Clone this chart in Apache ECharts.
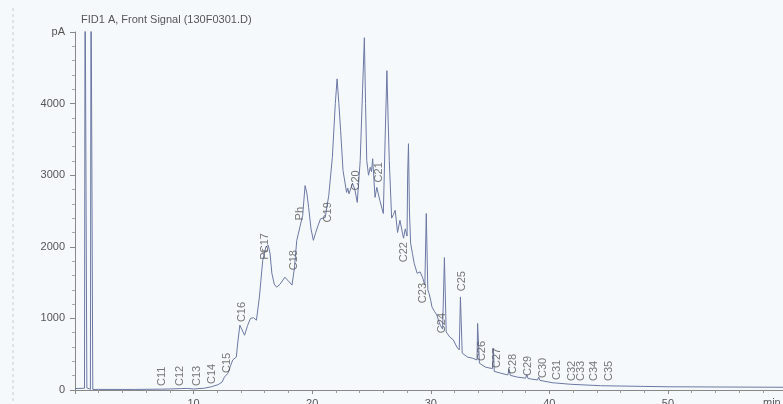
<!DOCTYPE html>
<html>
<head>
<meta charset="utf-8">
<script src="https://cdn.jsdelivr.net/npm/echarts@6/dist/echarts.min.js"></script>
<style>html,body{margin:0;padding:0;background:#f6f9fc;}#c{width:783px;height:404px;}</style>
</head>
<body>
<div id="c"></div>
<script>
// Retention time (min) and detector signal (pA)
var timeMin = [0,0.8,0.85,0.95,1.0,1.3,1.35,1.45,1.5,2,5,7.3,8,9,9.5,10,10.9,11.5,12.07,12.4,12.6,12.9,13.1,13.3,13.6,13.75,13.9,14.05,14.3,14.55,14.8,15.05,15.3,15.55,15.83,16.1,16.3,16.45,16.6,16.8,17.0,17.3,17.7,18.0,18.3,18.5,18.7,19.0,19.2,19.4,19.55,19.7,19.9,20.1,20.3,20.5,20.7,20.8,21.1,21.4,21.7,21.95,22.1,22.25,22.4,22.6,22.9,23.0,23.1,23.4,23.6,23.8,24.05,24.25,24.4,24.5,24.6,24.75,24.9,25.0,25.1,25.3,25.45,25.7,26.0,26.15,26.3,26.4,26.5,26.7,26.85,27.0,27.2,27.4,27.7,27.85,28.0,28.05,28.12,28.2,28.3,28.45,28.6,28.85,29.1,29.3,29.5,29.62,29.68,29.75,29.85,30.0,30.1,30.3,30.5,30.8,31.0,31.1,31.15,31.22,31.3,31.6,31.9,32.2,32.4,32.5,32.58,32.65,33.1,33.5,33.9,33.95,34.02,34.1,34.6,35.0,35.2,35.28,35.35,35.9,36.5,36.6,36.7,37.3,38.0,38.1,38.2,39.0,39.1,39.2,40.3,40.4,40.5,41.8,44.3,50,59.7];
var signalPA = [20,25,6000,6000,30,10,6000,6000,8,8,8,12,14,20,22,14,25,45,75,110,180,235,330,420,460,700,905,880,765,900,1000,1010,975,1300,1810,2000,2020,1900,1630,1480,1435,1480,1575,1520,1465,1700,2090,2300,2440,2855,2750,2550,2250,2090,2200,2300,2390,2370,2410,2720,3250,4000,4345,4000,3620,3065,2760,2820,2740,2885,2800,2620,3205,4200,4920,4000,3205,3000,3110,3050,3230,2690,2830,2650,2465,3500,4460,3800,3205,2400,2450,2510,2200,2370,2120,2250,2150,3000,3440,2500,2050,1910,1770,1630,1650,1575,1465,2465,2465,1400,1350,1250,1160,1100,1050,905,850,835,1850,1850,810,740,700,600,560,1300,1300,515,460,445,420,930,930,375,320,305,300,585,260,235,210,290,205,180,165,215,160,140,180,135,100,125,98,80,60,45,38];

// Peak annotations: name, retention time, signal level where the label starts
var peakNames = ['C11','C12','C13','C14','C15','C16','Pr','C17','C18','Ph','C19','C20','C21','C22','C23','C24','C25','C26','C27','C28','C29','C30','C31','C32','C33','C34','C35'];
var peakTimes = [7.30,8.82,10.25,11.52,12.78,14.05,16.0,16.0,18.44,18.95,21.31,23.67,25.61,27.72,29.32,30.93,32.62,34.30,35.57,36.92,38.19,39.45,40.63,41.90,42.66,43.76,45.02];
var peakLabelPA = [56,56,56,84,237,948,1820,1909,1672,2369,2341,2787,2899,1784,1213,794,1380,404,307,223,195,167,139,125,125,125,125];

// Axis tick labels
var yTickTop = 5000;
var yTopLabel = 'pA';

var signalData = timeMin.map(function (t, i) { return [t, signalPA[i]]; });
var peakData = peakNames.map(function (n, i) { return { value: [peakTimes[i], peakLabelPA[i]], name: n }; });

var textColor = '#555';
var chart = echarts.init(document.getElementById('c'), null, { renderer: 'canvas' });
chart.setOption({
  backgroundColor: '#f6f9fc',
  animation: false,
  title: {
    text: 'FID1 A, Front Signal (130F0301.D)',
    left: 76, top: 9,
    textStyle: { fontFamily: 'Liberation Sans', fontSize: 11, fontWeight: 'normal', color: textColor }
  },
  grid: { left: 75, right: 0, top: 32, bottom: 14, outerBoundsMode: 'none', containLabel: false },
  xAxis: {
    type: 'value', min: 0, max: 59.7, interval: 10,
    axisLine: { show: true, lineStyle: { color: '#888', width: 1 } },
    axisTick: { show: true, length: 4, lineStyle: { color: '#888' } },
    minorTick: { show: true, splitNumber: 5, length: 3, lineStyle: { color: '#999' } },
    splitLine: { show: false },
    axisLabel: {
      margin: 8, color: textColor, fontFamily: 'Liberation Sans', fontSize: 11,
      showMaxLabel: false,
      formatter: function (v) { return (v === 0 || v % 10 !== 0) ? '' : String(v); }
    }
  },
  yAxis: {
    type: 'value', min: 0, max: yTickTop, interval: 1000,
    axisLine: { show: true, lineStyle: { color: '#888', width: 1 } },
    axisTick: { show: true, length: 5, lineStyle: { color: '#888' } },
    minorTick: { show: true, splitNumber: 5, length: 3, lineStyle: { color: '#aaa' } },
    splitLine: { show: false },
    axisLabel: {
      margin: 10, color: textColor, fontFamily: 'Liberation Sans', fontSize: 11,
      formatter: function (v) { return v === yTickTop ? yTopLabel : String(v); }
    }
  },
  graphic: [
    { type: 'line', shape: { x1: 13, y1: 8, x2: 13, y2: 404 }, style: { stroke: '#c8ccd4', lineWidth: 1, lineDash: [3, 3] } },
    { type: 'text', left: 763, top: 397, style: { text: 'min', fill: textColor, font: '11px "Liberation Sans"' } }
  ],
  series: [
    {
      type: 'line', data: signalData, showSymbol: false, symbol: 'none', clip: true,
      lineStyle: { color: '#6c78a3', width: 1 }, z: 2
    },
    {
      type: 'scatter', data: peakData, symbolSize: 0, silent: true, z: 3,
      label: {
        show: true, position: 'inside', rotate: 90, align: 'left', verticalAlign: 'middle',
        formatter: function (p) { return p.name; },
        color: textColor, fontFamily: 'Liberation Sans', fontSize: 11
      }
    }
  ]
});
</script>
</body>
</html>
